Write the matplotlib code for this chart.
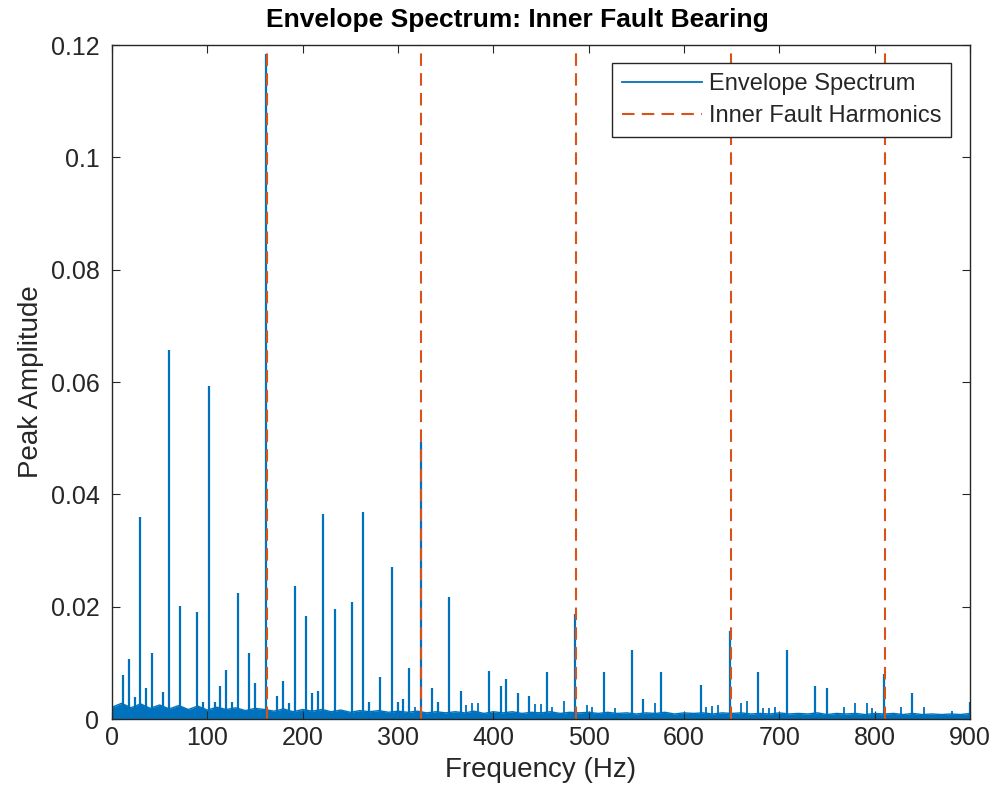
import numpy as np
import matplotlib
matplotlib.use("Agg")
import matplotlib.pyplot as plt

plt.rcParams["font.family"] = ["Liberation Sans", "DejaVu Sans"]

# spectral peaks (Hz, peak amplitude)
peak_freq = [11.9, 17.8, 23.8, 29.7, 35.7, 41.6, 53.8, 59.8, 71.7, 89.5, 95.6,
             101.7, 107.6, 113.6, 119.6, 125.5, 131.8, 143.7, 149.7, 161.8,
             173.4, 179.4, 185.5, 191.6, 203.5, 209.8, 215.7, 221.6, 233.5,
             251.7, 263.6, 269.5, 281.5, 293.7, 299.6, 305.6, 311.9, 323.8,
             335.7, 341.7, 353.5, 365.8, 395.8, 407.7, 413.6, 425.9, 437.4,
             455.8, 486.0, 515.7, 545.4, 557.3, 575.9, 617.4, 647.8, 677.2,
             707.6, 737.3, 749.5, 809.8, 839.5, 899.5]
peak_amp = [0.0078, 0.0107, 0.0040, 0.0359, 0.0055, 0.0117, 0.0049, 0.0658,
            0.0202, 0.0190, 0.0030, 0.0593, 0.0030, 0.0059, 0.0087, 0.0030,
            0.0225, 0.0117, 0.0064, 0.1185, 0.0041, 0.0068, 0.0028, 0.0237,
            0.0184, 0.0046, 0.0050, 0.0366, 0.0196, 0.0209, 0.0368, 0.0030,
            0.0075, 0.0271, 0.0030, 0.0035, 0.0090, 0.0494, 0.0056, 0.0030,
            0.0218, 0.0050, 0.0086, 0.0058, 0.0071, 0.0047, 0.0041, 0.0083,
            0.0187, 0.0084, 0.0123, 0.0036, 0.0083, 0.0060, 0.0157, 0.0084,
            0.0123, 0.0058, 0.0056, 0.0081, 0.0046, 0.0030]

# small spikes just above the noise floor
small_freq = [317.8, 371.7, 377.6, 383.6, 443.7, 449.7, 461.9, 473.8, 497.9,
              503.5, 527.6, 569.9, 623.5, 629.4, 635.3, 659.8, 665.7, 683.2,
              689.2, 695.5, 767.5, 779.8, 791.6, 797.6, 827.6, 851.4, 881.5]
small_amp = [0.0022, 0.0025, 0.0029, 0.0029, 0.0027, 0.0027, 0.0022, 0.0033,
             0.0025, 0.0022, 0.0019, 0.0029, 0.0021, 0.0023, 0.0025, 0.0029,
             0.0033, 0.0019, 0.0019, 0.0021, 0.0022, 0.0029, 0.0029, 0.0019,
             0.0021, 0.0021, 0.0015]

# noise floor of the envelope spectrum, one value every 10 Hz from 0 to 900
floor_amp = [0.0021, 0.0028, 0.0020, 0.0027, 0.0019, 0.0025, 0.0018, 0.0024,
             0.0017, 0.0023, 0.0016, 0.0021, 0.0017, 0.0020, 0.0015, 0.0019,
             0.0017, 0.0014, 0.0018, 0.0013, 0.0017, 0.0014, 0.0017, 0.0013,
             0.0016, 0.0012, 0.0015, 0.0013, 0.0015, 0.0012, 0.0014, 0.0012,
             0.0014, 0.0011, 0.0013, 0.0011, 0.0013, 0.0011, 0.0014, 0.0010,
             0.0013, 0.0011, 0.0013, 0.0010, 0.0012, 0.0011, 0.0013, 0.0010,
             0.0012, 0.0011, 0.0012, 0.0010, 0.0012, 0.0010, 0.0011, 0.0009,
             0.0011, 0.0010, 0.0012, 0.0009, 0.0011, 0.0010, 0.0011, 0.0009,
             0.0011, 0.0010, 0.0011, 0.0009, 0.0010, 0.0009, 0.0011, 0.0009,
             0.0010, 0.0009, 0.0011, 0.0008, 0.0010, 0.0009, 0.0010, 0.0008,
             0.0010, 0.0009, 0.0010, 0.0008, 0.0010, 0.0008, 0.0009, 0.0008,
             0.0009, 0.0008, 0.0010]
floor_freq = np.arange(len(floor_amp)) * 10

# inner race fault frequency and its harmonics
harmonics = [162.2, 324.4, 486.6, 648.8, 811.0]

blue = "#0072BD"
orange = "#D95319"
dark = "#262626"

fig = plt.figure(figsize=(10, 8.07), dpi=100)
ax = fig.add_axes([0.112, 0.109, 0.858, 0.835])

ax.fill_between(floor_freq, 0, floor_amp, color=blue, lw=0)
ax.plot(floor_freq, floor_amp, color=blue, lw=1.0, label="Envelope Spectrum")
ax.vlines(small_freq, 0, small_amp, color=blue, lw=1.3)
ax.vlines(peak_freq, 0, peak_amp, color=blue, lw=1.6)

for i, h in enumerate(harmonics):
    ax.axvline(h, color=orange, ls=(0, (6, 3.5)), lw=1.5,
               label="Inner Fault Harmonics" if i == 0 else None)

ax.set_xlim(0, 900)
ax.set_ylim(0, 0.12)
ax.set_xticks(range(0, 901, 100))
ax.set_yticks([0, 0.02, 0.04, 0.06, 0.08, 0.1, 0.12])
ax.set_yticklabels(["0", "0.02", "0.04", "0.06", "0.08", "0.1", "0.12"])
ax.tick_params(direction="in", length=6, labelsize=18, colors=dark,
               top=True, right=True)
ax.tick_params(axis="x", pad=5)
ax.tick_params(axis="y", pad=9)
for s in ax.spines.values():
    s.set_color(dark)
    s.set_linewidth(1.0)

ax.set_title("Envelope Spectrum: Inner Fault Bearing", fontsize=19,
             fontweight="bold", pad=13, x=0.472)
ax.set_xlabel("Frequency (Hz)", fontsize=20, color=dark, labelpad=5)
ax.set_ylabel("Peak Amplitude", fontsize=20, color=dark, labelpad=5)

leg = ax.legend(loc="upper right", fontsize=17, fancybox=False,
                edgecolor=dark, framealpha=1, borderpad=0.4,
                handlelength=3.4, handletextpad=0.3, labelspacing=0.45,
                borderaxespad=0, bbox_to_anchor=(0.978, 0.973))
leg.get_frame().set_linewidth(1.0)
leg.get_lines()[0].set_linewidth(1.3)
for t in leg.get_texts():
    t.set_color(dark)

fig.savefig("out.png", dpi=100)
